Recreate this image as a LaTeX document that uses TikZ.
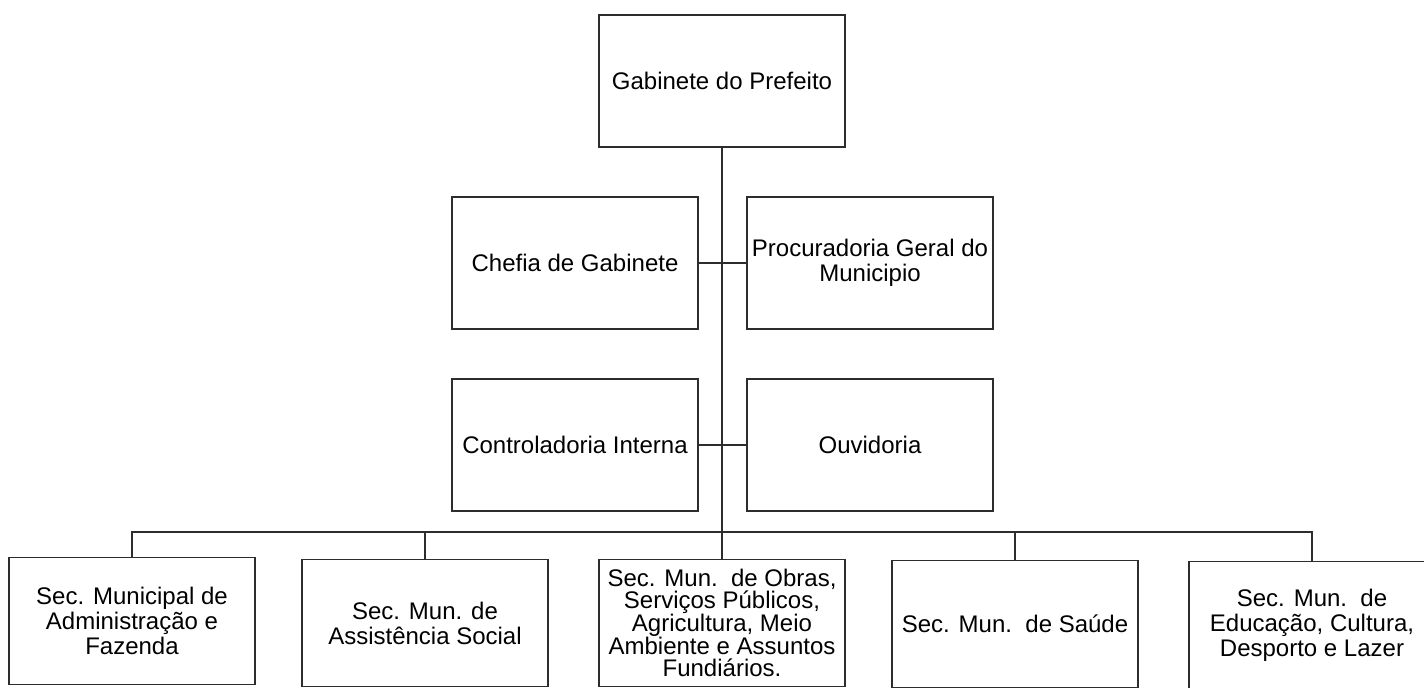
\documentclass[tikz,border=0pt]{standalone}
\usepackage{fontspec}
\setmainfont{Liberation Sans}
\usepackage{tikz}
\usetikzlibrary{positioning}
\definecolor{ink}{RGB}{45,45,45}
\tikzset{
  every node/.style={outer sep=0mm,inner sep=0mm},
  link/.style={draw=ink,line width=1pt}
}
\tikzset{unit/.style={
    draw=ink,
    line width=0.9pt,
    minimum width=#1,
    minimum height=66pt,
    align=center,
    font=\fontsize{12}{12.5}\selectfont
  },
  unit/.default=123pt}
\tikzset{secret/.style={unit,minimum height=63.5pt}}

\begin{document}
\begin{tikzpicture}[x=0.5pt,y=-0.5pt]
  \useasboundingbox (0,0) rectangle (1424,688);

  \node (gab)     [unit] at (722,81)  {Gabinete do Prefeito};
  \node (chefia)  [unit] at (575,263) {Chefia de Gabinete};
  \node (procur)  [unit] at (870,263) {Procuradoria Geral do\\Municipio};
  \node (control) [unit] at (575,445) {Controladoria Interna};
  \node (ouvid)   [unit] at (870,445) {Ouvidoria};

  \node (secadm)    [secret] at (132,621)  {Sec. Municipal de\\Administração e\\Fazenda};
  \node (secassist) [secret] at (425,623)  {Sec. Mun. de\\Assistência Social};
  \node (secobras)  [secret,font=\fontsize{12}{11.3}\selectfont] at (722,623)
    {Sec. Mun.\ \ de Obras,\\Serviços Públicos,\\Agricultura, Meio\\Ambiente e Assuntos\\Fundiários.};
  \node (secsaude)  [secret] at (1015,624) {Sec. Mun.\ \ de Saúde};
  \node (seceduc)   [secret] at (1312,625) {Sec. Mun.\ \ de\\Educação, Cultura,\\Desporto e Lazer};

  \coordinate (bus) at (722,532);

  \draw [link] (gab.south) -- (secobras.north);
  \draw [link] (chefia.east) -- (procur.west);
  \draw [link] (control.east) -- (ouvid.west);

  \draw [link] (secadm.north) |- (bus) -| (seceduc.north);
  \draw [link] (secassist.north) -- (secassist.north|-bus);
  \draw [link] (secsaude.north) -- (secsaude.north|-bus);
\end{tikzpicture}
\end{document}
